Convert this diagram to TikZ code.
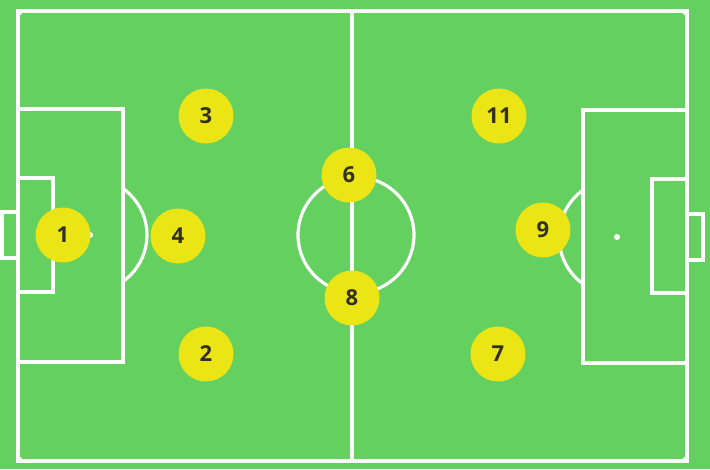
\documentclass[tikz,border=0pt]{standalone}
\usepackage{fontspec}
\setmainfont{Open Sans}
\usepackage{tikz}
\definecolor{pitch}{RGB}{100,208,96}
\definecolor{shirt}{RGB}{236,229,22}
\definecolor{number}{RGB}{50,48,30}

\begin{document}
\begin{tikzpicture}[x=1pt, y=-1pt, every node/.style={circle, fill=shirt, minimum size=55pt, inner sep=0pt, text=number, font=\fontsize{22}{22}\selectfont\bfseries}, line/.style={draw=white, line width=3.2pt}, flag/.style={draw=white, line width=1.4pt}]
			\fill[pitch] (0,0) rectangle (710,469);
			\useasboundingbox (0,0) rectangle (710,469);
			
			% field lines
			\draw[line] (18,11) rectangle (687,461);
			\draw[line] (352,11) -- (352,461);
			\draw[line] (356,235) circle (58);
			\draw[line] (18,109) rectangle (123,362);
			\draw[line] (18,178) rectangle (53,292);
			\draw[line] (2,212) rectangle (18,258);
			\draw[line] (583,110) rectangle (687,363);
			\draw[line] (652,179) rectangle (687,293);
			\draw[line] (687,214) rectangle (703,260);
			\begin{scope}
			\clip (123,0) rectangle (583,469);
			\draw[line] (90,235) circle (57);
			\draw[line] (617,237) circle (58);
			\end{scope}
			\fill[white] (90,235) circle (3);
			\fill[white] (617,237) circle (3);
			
			% corners
			\begin{scope}
			\clip (18,11) rectangle (687,461);
			\draw[flag] (18,11) circle (4);
			\draw[flag] (687,11) circle (4);
			\draw[flag] (18,461) circle (4);
			\draw[flag] (687,461) circle (4);
			\end{scope}
			
			% players
			\node (p1) at (63,235){1};
			\node (p3) at (206,116){3};
			\node (p4) at (178,236){4};
			\node (p2) at (206,354){2};
			\node (p6) at (349,175){6};
			\node (p8) at (352,298){8};
			\node (p11) at (499,116){11};
			\node (p9) at (543,230){9};
			\node (p7) at (498,354){7};
			\end{tikzpicture}
\end{document}
